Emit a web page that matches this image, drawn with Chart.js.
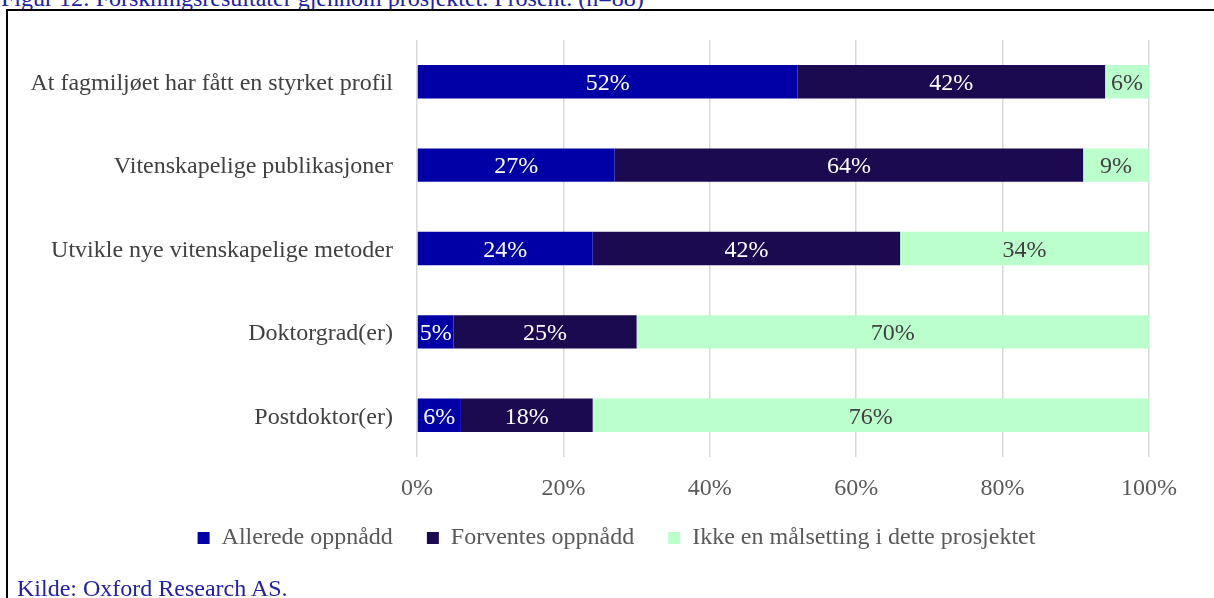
<!DOCTYPE html>
<html>
<head>
<meta charset="utf-8">
<script src="https://cdn.jsdelivr.net/npm/chart.js@4"></script>
<style>
  html, body { margin: 0; padding: 0; background: #fff; overflow: hidden; }
  body { width: 1214px; height: 598px; position: relative; font-family: "Liberation Serif", "Times New Roman", serif; }
  #title { position: absolute; left: 1px; top: -15px; font-size: 24px; color: #2020a8; white-space: nowrap; }
  #frame { position: absolute; left: 6px; top: 9px; width: 1300px; height: 700px; border: 2px solid #000; box-sizing: border-box; }
  #source { position: absolute; left: 17px; top: 575px; font-size: 24px; color: #2020a8; white-space: nowrap; }
  #wrap { position: absolute; left: 18px; top: 0; width: 1196px; height: 598px; }
</style>
</head>
<body>
<div id="title">Figur 12: Forskningsresultater gjennom prosjektet. Prosent. (n=88)</div>
<div id="frame"></div>
<div id="wrap"><canvas id="chart"></canvas></div>
<div id="source">Kilde: Oxford Research AS.</div>
<script>
// Survey items (top to bottom)
const categories = [
  'At fagmiljøet har fått en styrket profil',
  'Vitenskapelige publikasjoner',
  'Utvikle nye vitenskapelige metoder',
  'Doktorgrad(er)',
  'Postdoktor(er)'
];

// Share of respondents per answer, in percent
const alleredeOppnadd = [52, 27, 24, 5, 6];
const forventesOppnadd = [42, 64, 42, 25, 18];
const ikkeMalsetting  = [6, 9, 34, 70, 76];

const seriesNames = ['Allerede oppnådd', 'Forventes oppnådd', 'Ikke en målsetting i dette prosjektet'];
const seriesColors = ['#0000a6', '#1c0a50', '#bbffcc'];
const labelColors = ['#ffffff', '#ffffff', '#404040'];

const xTicks = [0, 20, 40, 60, 80, 100];

const serif = "'Liberation Serif', 'Times New Roman', serif";

// Writes each segment's percentage in the middle of its bar
const segmentLabels = {
  id: 'segmentLabels',
  afterDatasetsDraw(chart) {
    const ctx = chart.ctx;
    ctx.save();
    ctx.font = '24px ' + serif;
    ctx.textAlign = 'center';
    ctx.textBaseline = 'middle';
    chart.data.datasets.forEach((ds, i) => {
      const meta = chart.getDatasetMeta(i);
      meta.data.forEach((bar, j) => {
        const v = ds.data[j];
        const cx = (bar.x + bar.base) / 2;
        ctx.fillStyle = labelColors[i];
        ctx.fillText(v + '%', cx, bar.y + 2);
      });
    });
    ctx.restore();
  }
};

// Centres the legend under the whole figure and pulls it up closer to the axis
const legendPlacement = {
  id: 'legendPlacement',
  afterLayout(chart) {
    const lg = chart.legend;
    if (!lg) return;
    const dx = 33, dy = -26;
    lg.left += dx; lg.right += dx;
    lg.top += dy; lg.bottom += dy;
  }
};

const datasets = [alleredeOppnadd, forventesOppnadd, ikkeMalsetting].map((d, i) => ({
  label: seriesNames[i],
  data: d,
  backgroundColor: seriesColors[i],
  borderWidth: 0,
  categoryPercentage: 1,
  barPercentage: 0.4
}));

new Chart(document.getElementById('chart'), {
  type: 'bar',
  data: { labels: categories, datasets },
  plugins: [segmentLabels, legendPlacement],
  options: {
    indexAxis: 'y',
    responsive: true,
    maintainAspectRatio: false,
    animation: false,
    layout: { padding: { top: 40, right: 65, bottom: 12, left: 0 } },
    scales: {
      x: {
        stacked: true,
        min: 0,
        max: 100,
        afterBuildTicks(scale) { scale.ticks = xTicks.map(v => ({ value: v })); },
        afterFit(scale) { scale.height = 61; },
        grid: { color: '#d9d9d9', lineWidth: 1.5, drawTicks: false },
        border: { display: false },
        ticks: {
          padding: 17,
          color: '#595959',
          font: { family: serif, size: 24 },
          callback: v => v + '%'
        }
      },
      y: {
        stacked: true,
        afterFit(scale) { scale.width = 399; },
        grid: { display: false, drawTicks: false },
        border: { display: false },
        ticks: {
          padding: 24,
          labelOffset: 2,
          color: '#404040',
          font: { family: serif, size: 24 }
        }
      }
    },
    plugins: {
      legend: {
        position: 'bottom',
        labels: {
          boxWidth: 12,
          boxHeight: 12,
          padding: 34,
          color: '#595959',
          font: { family: serif, size: 24 }
        }
      },
      tooltip: { enabled: false }
    }
  }
});
</script>
</body>
</html>
